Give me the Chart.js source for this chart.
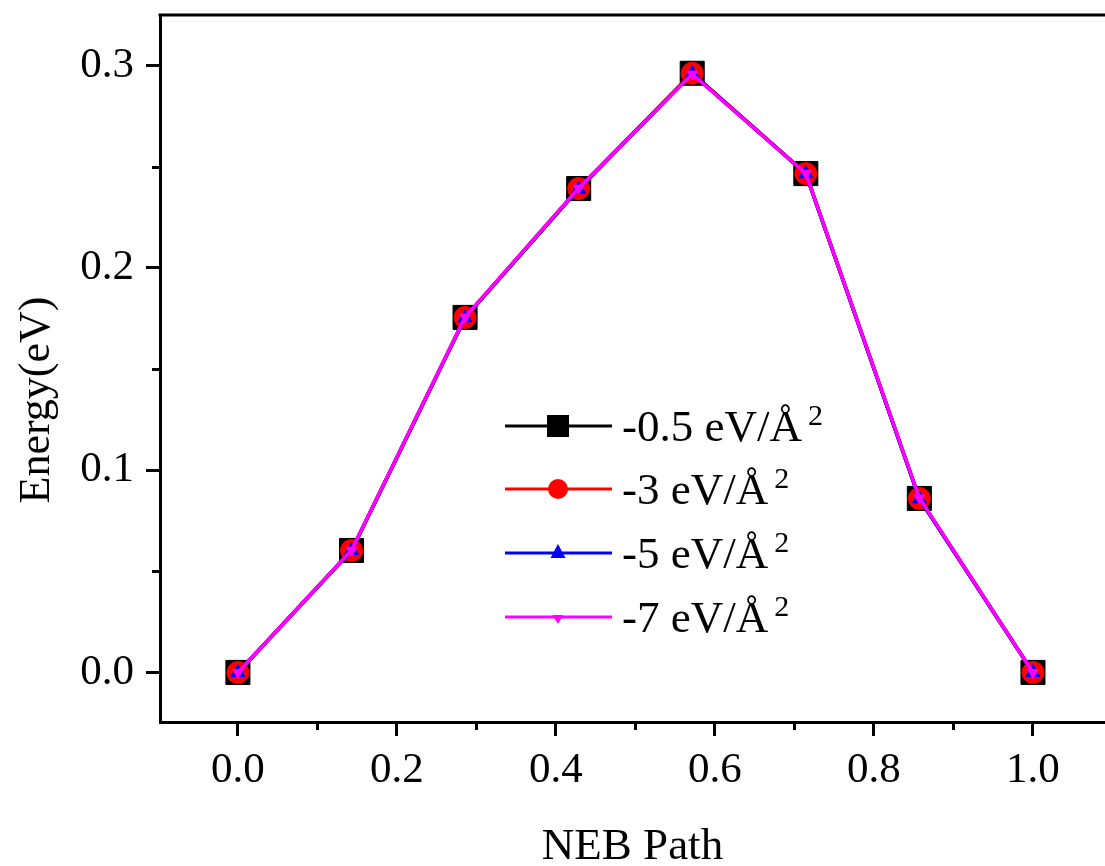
<!DOCTYPE html>
<html><head><meta charset="utf-8">
<script src="https://cdn.jsdelivr.net/npm/chart.js@4.4.1/dist/chart.umd.min.js"></script>
<style>html,body{margin:0;padding:0;background:#fff;overflow:hidden}</style>
</head><body>
<canvas id="c" width="1105" height="866"></canvas>
<script>
// ---- data ----
const xValues = [0, 0.1429, 0.2857, 0.4286, 0.5714, 0.7143, 0.8571, 1.0];
const seriesLabels = ['-0.5 eV/Å', '-3 eV/Å', '-5 eV/Å', '-7 eV/Å'];
const energy05 = [0, 0.0603, 0.1755, 0.2392, 0.2962, 0.2466, 0.0860, 0];
const energy3  = [0, 0.0603, 0.1755, 0.2392, 0.2962, 0.2466, 0.0860, 0];
const energy5  = [0, 0.0602, 0.1753, 0.2389, 0.2960, 0.2465, 0.0858, 0];
const energy7  = [0, 0.0604, 0.1757, 0.2394, 0.2958, 0.2467, 0.0862, 0];
const xTicks = [0, 0.2, 0.4, 0.6, 0.8, 1.0];
const xMinorTicks = [0.1, 0.3, 0.5, 0.7, 0.9];
const yTicks = [0, 0.1, 0.2, 0.3];
const yMinorTicks = [0.05, 0.15, 0.25];

const FONT = "'Liberation Serif', 'Times New Roman', serif";
const colors = ['#000000', '#ff0000', '#0000ff', '#ff00ff'];
const styles = ['rect', 'circle', 'triangle', 'triangle'];
const radii = [17, 11, 8, 6];
const rotations = [0, 0, 0, 180];
const allSeries = [energy05, energy3, energy5, energy7];

function pts(arr) { return xValues.map((x, i) => ({x: x, y: arr[i]})); }

const datasets = allSeries.map((s, i) => ({
  label: seriesLabels[i],
  data: pts(s),
  borderColor: colors[i],
  backgroundColor: colors[i],
  borderWidth: 3.5,
  pointStyle: styles[i],
  pointRadius: radii[i],
  pointRotation: rotations[i],
  pointBorderWidth: 1,
  pointBorderColor: colors[i],
  pointBackgroundColor: colors[i],
  order: 4 - i,
  tension: 0,
  fill: false
}));

function zeroPad(s) { s.paddingTop = 0; s.paddingBottom = 0; s.paddingLeft = 0; s.paddingRight = 0; }

const extras = {
  id: 'extras',
  afterDraw(chart) {
    const ctx = chart.ctx;
    const a = chart.chartArea;
    const xs = chart.scales.x, ys = chart.scales.y;
    ctx.save();
    ctx.strokeStyle = '#000';
    ctx.lineWidth = 3;
    // top border
    ctx.beginPath();
    ctx.moveTo(a.left - 1.5, a.top);
    ctx.lineTo(a.right + 2, a.top);
    ctx.stroke();
    // minor ticks
    yMinorTicks.forEach(v => {
      const y = Math.round(ys.getPixelForValue(v)) + 0.5;
      ctx.beginPath(); ctx.moveTo(a.left - 8, y); ctx.lineTo(a.left, y); ctx.stroke();
    });
    xMinorTicks.forEach(v => {
      const x = Math.round(xs.getPixelForValue(v)) + 0.5;
      ctx.beginPath(); ctx.moveTo(x, a.bottom); ctx.lineTo(x, a.bottom + 8); ctx.stroke();
    });
    // y title
    ctx.save();
    ctx.translate(37, 400);
    ctx.rotate(-Math.PI / 2);
    ctx.fillStyle = '#000';
    ctx.font = '44px ' + FONT;
    ctx.textAlign = 'center';
    ctx.textBaseline = 'middle';
    ctx.fillText('Energy(eV)', 0, 0);
    ctx.restore();
    // legend
    const rows = [426, 489, 553, 617];
    rows.forEach((ry, i) => {
      ctx.strokeStyle = colors[i];
      ctx.lineWidth = 3;
      ctx.beginPath(); ctx.moveTo(505, ry); ctx.lineTo(612, ry); ctx.stroke();
      ctx.fillStyle = colors[i];
      const cx = 558;
      ctx.beginPath();
      if (i === 0) {
        ctx.rect(cx - 11, ry - 11, 22, 22);
      } else if (i === 1) {
        ctx.arc(cx, ry, 10, 0, Math.PI * 2);
      } else if (i === 2) {
        ctx.moveTo(cx, ry - 9); ctx.lineTo(cx + 7.5, ry + 5); ctx.lineTo(cx - 7.5, ry + 5); ctx.closePath();
      } else {
        ctx.moveTo(cx, ry + 7); ctx.lineTo(cx + 5.5, ry - 2); ctx.lineTo(cx - 5.5, ry - 2); ctx.closePath();
      }
      ctx.fill();
      ctx.fillStyle = '#000';
      ctx.font = '45px ' + FONT;
      ctx.textAlign = 'left';
      ctx.textBaseline = 'alphabetic';
      const tx = 622;
      ctx.fillText(seriesLabels[i], tx, ry + 15);
      const w = ctx.measureText(seriesLabels[i]).width;
      ctx.font = '30px ' + FONT;
      ctx.fillText('2', tx + w + 6, ry - 1);
    });
    ctx.restore();
  }
};

new Chart(document.getElementById('c'), {
  type: 'line',
  data: { datasets: datasets },
  plugins: [extras],
  options: {
    responsive: false,
    animation: false,
    layout: { autoPadding: false, padding: { top: 15, left: 0, right: 0, bottom: 0 } },
    plugins: { legend: { display: false }, tooltip: { enabled: false } },
    scales: {
      x: {
        type: 'linear',
        min: -0.098,
        max: 1.0906,
        afterBuildTicks: s => { s.ticks = xTicks.map(v => ({value: v})); },
        afterFit: s => { s.height = 144; zeroPad(s); },
        ticks: {
          callback: v => Number(v).toFixed(1),
          font: { family: FONT, size: 43 },
          color: '#000',
          padding: 9,
          autoSkip: false,
          maxRotation: 0
        },
        grid: { display: true, drawOnChartArea: false, drawTicks: true, tickLength: 14, tickWidth: 3, tickColor: '#000' },
        border: { display: true, width: 3, color: '#000' },
        title: { display: true, text: 'NEB Path', color: '#000', font: { family: FONT, size: 45, lineHeight: 1 }, padding: { top: 0, bottom: -4 } }
      },
      y: {
        type: 'linear',
        min: -0.0245,
        max: 0.325,
        afterBuildTicks: s => { s.ticks = yTicks.map(v => ({value: v})); },
        afterFit: s => { s.width = 160; zeroPad(s); },
        ticks: {
          callback: v => Number(v).toFixed(1),
          font: { family: FONT, size: 43 },
          color: '#000',
          padding: 12,
          autoSkip: false
        },
        grid: { display: true, drawOnChartArea: false, drawTicks: true, tickLength: 14, tickWidth: 3, tickColor: '#000' },
        border: { display: true, width: 3, color: '#000' }
      }
    }
  }
});
</script>
</body></html>
